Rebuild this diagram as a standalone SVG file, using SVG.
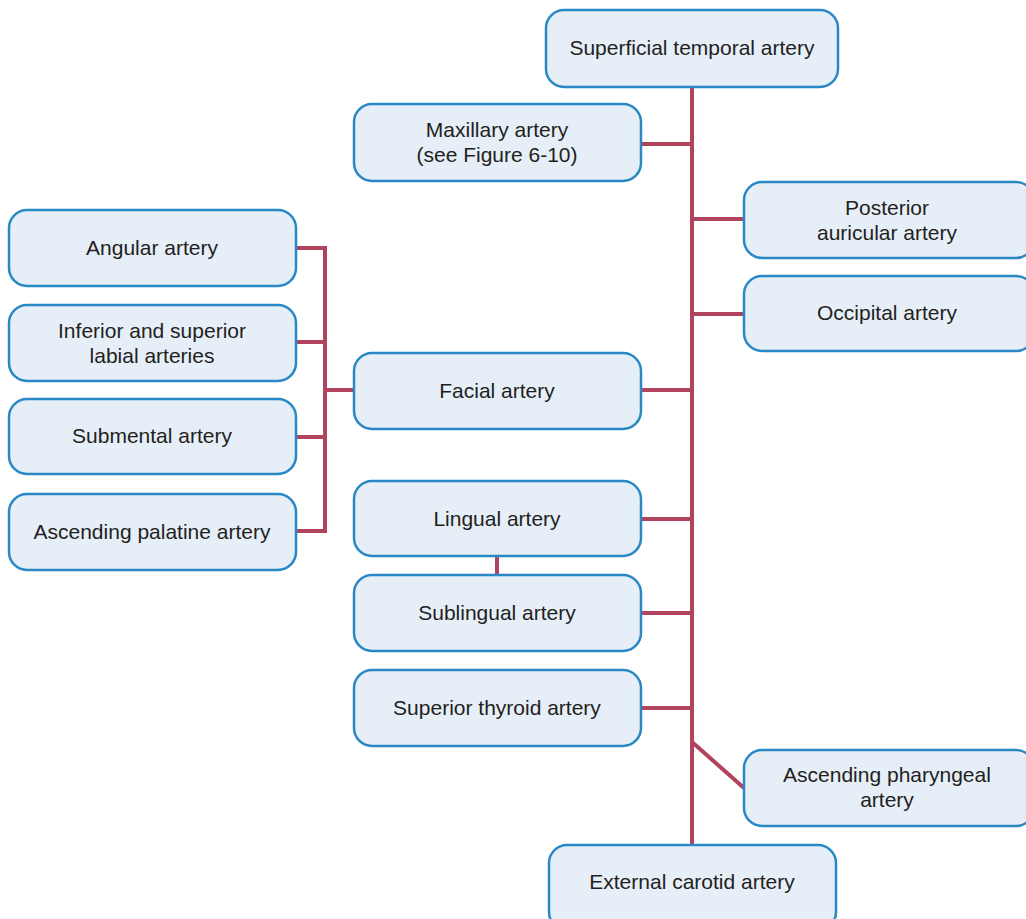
<svg xmlns="http://www.w3.org/2000/svg" width="1026" height="919" viewBox="0 0 1026 919">
  <style>
    .box { fill: #e6eef8; stroke: #2a89c5; stroke-width: 2.5; }
    .lbl { font-family: "Liberation Sans", Arial, sans-serif; font-size: 21px; fill: #231f20; text-anchor: middle; }
    .link { stroke: #b0445f; stroke-width: 4; fill: none; stroke-linecap: butt; }
  </style>
  <rect width="1026" height="919" fill="#ffffff"/>

  <!-- vessel connectors -->
  <g id="connectors">
    <line class="link" x1="692" y1="87" x2="692" y2="845"/>
    <line class="link" x1="641" y1="144" x2="692" y2="144"/>
    <line class="link" x1="692" y1="219" x2="744" y2="219"/>
    <line class="link" x1="692" y1="314" x2="744" y2="314"/>
    <line class="link" x1="641" y1="390" x2="692" y2="390"/>
    <line class="link" x1="641" y1="519" x2="692" y2="519"/>
    <line class="link" x1="641" y1="613" x2="692" y2="613"/>
    <line class="link" x1="641" y1="708" x2="692" y2="708"/>
    <line class="link" x1="692" y1="742" x2="744" y2="788"/>
    <line class="link" x1="497" y1="556" x2="497" y2="575"/>
    <line class="link" x1="325" y1="390" x2="354" y2="390"/>
    <polyline class="link" points="296,248 325,248 325,531 296,531"/>
    <line class="link" x1="296" y1="342" x2="325" y2="342"/>
    <line class="link" x1="296" y1="437" x2="325" y2="437"/>
  </g>

  <g id="superficial-temporal">
    <rect class="box" x="546" y="10" width="292" height="77" rx="18"/>
    <text class="lbl" x="692" y="55">Superficial temporal artery</text>
  </g>
  <g id="maxillary">
    <rect class="box" x="354" y="104" width="287" height="77" rx="18"/>
    <text class="lbl" x="497" y="137">Maxillary artery</text>
    <text class="lbl" x="497" y="162">(see Figure 6-10)</text>
  </g>
  <g id="posterior-auricular">
    <rect class="box" x="744" y="182" width="290" height="76" rx="18"/>
    <text class="lbl" x="887" y="215">Posterior</text>
    <text class="lbl" x="887" y="240">auricular artery</text>
  </g>
  <g id="occipital">
    <rect class="box" x="744" y="276" width="290" height="75" rx="18"/>
    <text class="lbl" x="887" y="320">Occipital artery</text>
  </g>
  <g id="facial">
    <rect class="box" x="354" y="353" width="287" height="76" rx="18"/>
    <text class="lbl" x="497" y="398">Facial artery</text>
  </g>
  <g id="lingual">
    <rect class="box" x="354" y="481" width="287" height="75" rx="18"/>
    <text class="lbl" x="497" y="526">Lingual artery</text>
  </g>
  <g id="sublingual">
    <rect class="box" x="354" y="575" width="287" height="76" rx="18"/>
    <text class="lbl" x="497" y="620">Sublingual artery</text>
  </g>
  <g id="superior-thyroid">
    <rect class="box" x="354" y="670" width="287" height="76" rx="18"/>
    <text class="lbl" x="497" y="715">Superior thyroid artery</text>
  </g>
  <g id="ascending-pharyngeal">
    <rect class="box" x="744" y="750" width="290" height="76" rx="18"/>
    <text class="lbl" x="887" y="782">Ascending pharyngeal</text>
    <text class="lbl" x="887" y="807">artery</text>
  </g>
  <g id="external-carotid">
    <rect class="box" x="549" y="845" width="287" height="85" rx="18"/>
    <text class="lbl" x="692" y="889">External carotid artery</text>
  </g>
  <g id="angular">
    <rect class="box" x="9" y="210" width="287" height="76" rx="18"/>
    <text class="lbl" x="152" y="255">Angular artery</text>
  </g>
  <g id="labial">
    <rect class="box" x="9" y="305" width="287" height="76" rx="18"/>
    <text class="lbl" x="152" y="338">Inferior and superior</text>
    <text class="lbl" x="152" y="363">labial arteries</text>
  </g>
  <g id="submental">
    <rect class="box" x="9" y="399" width="287" height="75" rx="18"/>
    <text class="lbl" x="152" y="443">Submental artery</text>
  </g>
  <g id="ascending-palatine">
    <rect class="box" x="9" y="494" width="287" height="76" rx="18"/>
    <text class="lbl" x="152" y="539">Ascending palatine artery</text>
  </g>
</svg>
